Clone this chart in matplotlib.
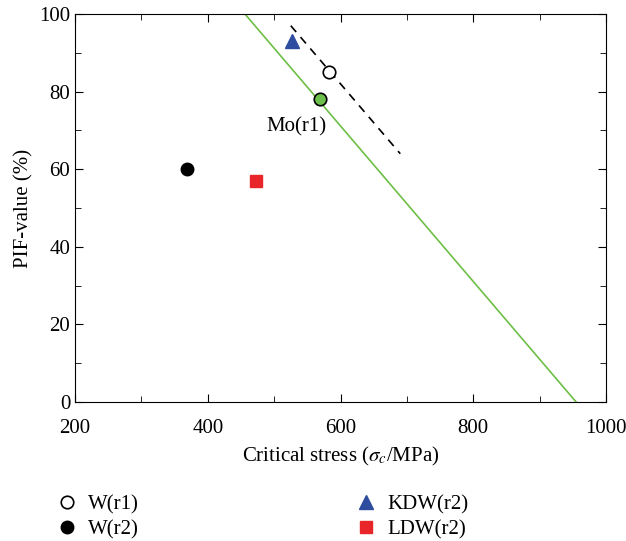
import matplotlib
matplotlib.use("Agg")
from matplotlib import pyplot as plt
from matplotlib.ticker import MultipleLocator

plt.rcParams['font.family'] = ['Liberation Serif', 'DejaVu Serif']
plt.rcParams['mathtext.fontset'] = 'stix'

# points: (critical stress MPa, PIF %)
w_r1 = (583, 85)
w_r2 = (368, 60)
mo_r1 = (569, 78)
kdw_r2 = (527, 93)
ldw_r2 = (473, 57)

# fitted lines
green_x = [456, 955]
green_y = [100, 0]
dash_x = [525, 690]
dash_y = [97, 64]

fig = plt.figure(figsize=(6.26, 5.41), dpi=100)
ax = fig.add_axes([0.12, 0.257, 0.848, 0.717])

ax.plot(green_x, green_y, color='#6dbf45', lw=1.2, zorder=1)
ax.plot(dash_x, dash_y, color='black', lw=1.2, ls=(0, (5, 4)), zorder=1)

h1, = ax.plot(*w_r1, 'o', ms=9, mfc='white', mec='black', mew=1.2, label='W(r1)', zorder=3)
h2, = ax.plot(*w_r2, 'o', ms=9, mfc='black', mec='black', label='W(r2)', zorder=3)
ax.plot(*mo_r1, 'o', ms=9, mfc='#6cbf4a', mec='black', mew=1.2, zorder=3)
h3, = ax.plot(*kdw_r2, '^', ms=10, mfc='#2e4d9e', mec='#2e4d9e', label='KDW(r2)', zorder=3)
h4, = ax.plot(*ldw_r2, 's', ms=8, mfc='#e8262a', mec='#e8262a', label='LDW(r2)', zorder=3)

ax.text(534, 71, 'Mo(r1)', ha='center', va='center', fontsize=15)

ax.set_xlim(200, 1000)
ax.set_ylim(0, 100)
ax.xaxis.set_major_locator(MultipleLocator(200))
ax.xaxis.set_minor_locator(MultipleLocator(100))
ax.yaxis.set_major_locator(MultipleLocator(20))
ax.yaxis.set_minor_locator(MultipleLocator(10))
ax.tick_params(which='both', direction='in', top=True, right=True, labelsize=15)
ax.tick_params(which='major', length=6)
ax.tick_params(which='minor', length=4)
ax.tick_params(axis='x', pad=12)

ax.set_xlabel(r'Critical stress ($\sigma_c$/MPa)', fontsize=15, labelpad=5)
ax.set_ylabel('PIF-value (%)', fontsize=15, labelpad=4)

fig.legend(handles=[h1, h2, h3, h4], ncol=2, frameon=False, fontsize=15,
           loc='upper left', bbox_to_anchor=(0.091, 0.085), columnspacing=10.4,
           handletextpad=0.5, labelspacing=0.25, handlelength=1.0,
           borderaxespad=0, borderpad=0)

fig.savefig('out.png', dpi=100)
